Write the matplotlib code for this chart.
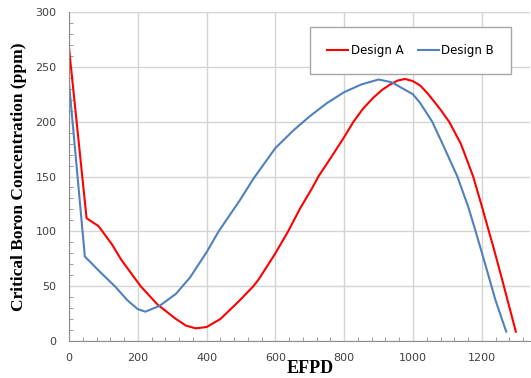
import matplotlib
matplotlib.use("Agg")
import matplotlib.pyplot as plt
from matplotlib.ticker import MultipleLocator

# EFPD / critical boron (ppm)
efpd_a = [0, 51, 65, 85, 97, 125, 152, 180, 208, 258, 311, 340, 368, 400, 440,
          493, 536, 551, 600, 637, 672, 706, 725, 765, 800, 827, 855, 885, 910,
          934, 955, 977, 1000, 1021, 1042, 1060, 1080, 1105, 1139, 1175, 1200,
          1236, 1260, 1299]
boron_a = [267, 112, 109, 105, 100, 88, 74, 62, 50, 33, 20, 14, 11.5, 12.7, 20,
           36, 50, 56, 80, 100, 121, 139, 150, 169, 186, 200, 212, 222, 229,
           234, 237.5, 239, 237, 233, 226, 219, 211, 200, 180, 150, 123,
           83, 55, 8.5]

efpd_b = [0, 46, 65, 90, 133, 170, 200, 222, 263, 311, 352, 400, 435, 498,
          536, 600, 652, 700, 750, 800, 850, 900, 938, 1000, 1021, 1056, 1090,
          1129, 1161, 1184, 1210, 1240, 1271]
boron_b = [235, 77, 71, 63, 50, 37, 29, 26.7, 32, 43, 58, 81, 100, 129,
           148, 176, 192, 205, 217, 227, 234, 238.5, 236, 225, 217, 200, 177,
           150, 122, 98, 70, 37, 8.5]

fig = plt.figure(figsize=(5.31, 3.78), dpi=100)
ax = fig.add_axes([0.130, 0.098, 0.868, 0.870])

ax.plot(efpd_a, boron_a, color="#FF0000", lw=1.5, label="Design A")
ax.plot(efpd_b, boron_b, color="#4F81BD", lw=1.5, label="Design B")

ax.set_xlim(0, 1340)
ax.set_ylim(0, 300)
ax.xaxis.set_major_locator(MultipleLocator(200))
ax.xaxis.set_minor_locator(MultipleLocator(40))
ax.yaxis.set_major_locator(MultipleLocator(50))
ax.yaxis.set_minor_locator(MultipleLocator(10))
ax.grid(True, which="major", color="#D4D4D4", lw=1)
ax.set_axisbelow(True)

for s in ["top", "right"]:
    ax.spines[s].set_visible(False)
for s in ["left", "bottom"]:
    ax.spines[s].set_color("#8C8C8C")
ax.tick_params(which="both", direction="in", colors="#8C8C8C",
               labelcolor="#404040", labelsize=8)
ax.tick_params(which="major", length=0, pad=9)
ax.tick_params(which="minor", length=3)

ax.set_xlabel("EFPD", family="Liberation Serif", fontweight="bold", fontsize=13)
ax.xaxis.set_label_coords(0.523, -0.083)
ax.xaxis.label.set_verticalalignment("center")
ax.set_ylabel("Critical Boron Concentration (ppm)", family="Liberation Serif",
              fontweight="bold", fontsize=12.5, labelpad=6)

leg = ax.legend(loc="upper right", ncol=2, bbox_to_anchor=(0.972, 0.973),
                fancybox=False, handlelength=1.8, handletextpad=0.2,
                columnspacing=1.2, fontsize=8.5, borderpad=1.45,
                edgecolor="#A6A6A6", framealpha=1)
leg.get_frame().set_linewidth(1)

fig.savefig("out.png", dpi=100)
